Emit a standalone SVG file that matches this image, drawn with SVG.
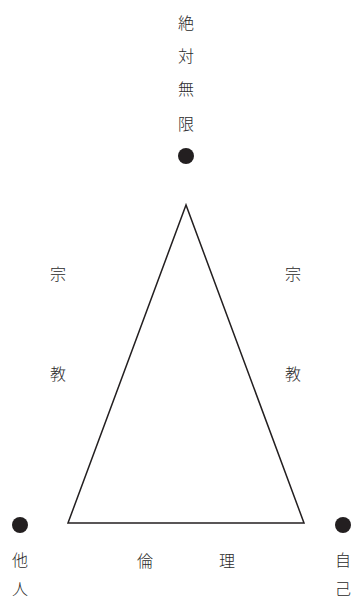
<svg xmlns="http://www.w3.org/2000/svg" width="353" height="602" viewBox="0 0 353 602">
<style>
text{font-family:"Noto Sans CJK JP","Noto Sans CJK SC",sans-serif;font-size:16px;font-weight:300;fill:#2a2a2a;text-anchor:middle}
.dot{fill:#231f20}
.edge{fill:none;stroke:#231f20;stroke-width:1.5;stroke-linejoin:miter}
</style>
<rect width="353" height="602" fill="#fff"/>
<g id="connectors">
<path class="edge" d="M186,205 L68,523 L304,523 Z"/>
</g>
<g id="absolute">
<text x="186" y="29">絶</text>
<text x="186" y="62">対</text>
<text x="186" y="95">無</text>
<text x="186" y="130">限</text>
<circle class="dot" cx="186" cy="156" r="8"/>
</g>
<g id="other">
<circle class="dot" cx="20" cy="525" r="8"/>
<text x="20" y="566">他</text>
<text x="20" y="595">人</text>
</g>
<g id="self">
<circle class="dot" cx="343" cy="525" r="8"/>
<text x="343" y="566">自</text>
<text x="343" y="595">己</text>
</g>
<g id="religion-left">
<text x="58" y="280">宗</text>
<text x="58" y="380">教</text>
</g>
<g id="religion-right">
<text x="293" y="280">宗</text>
<text x="293" y="380">教</text>
</g>
<g id="ethics">
<text x="145" y="567">倫</text>
<text x="227" y="567">理</text>
</g>
</svg>
